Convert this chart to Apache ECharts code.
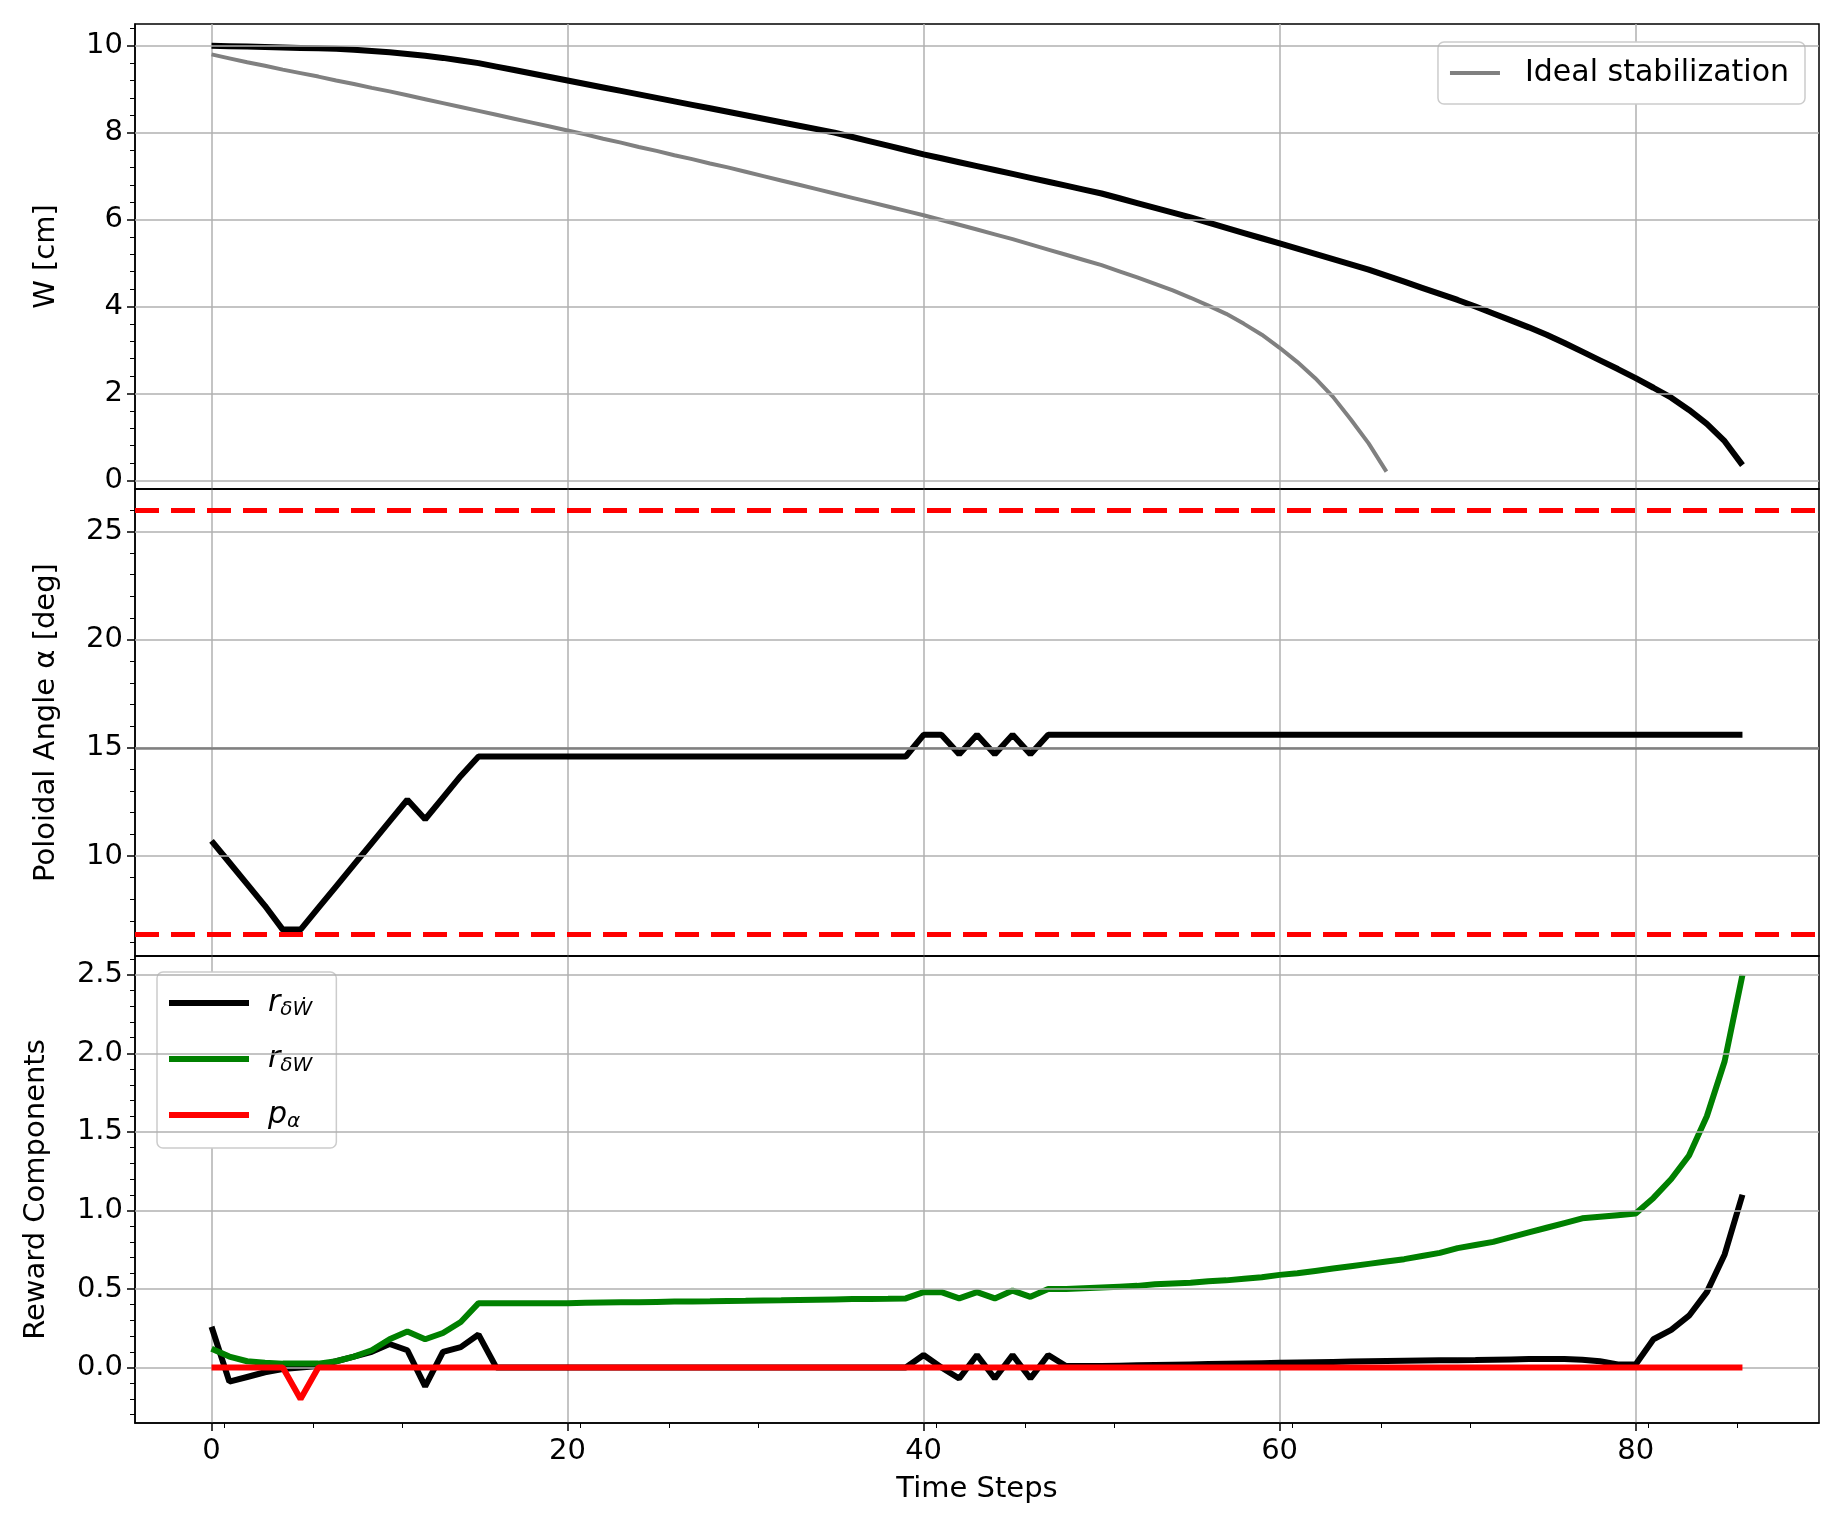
<!DOCTYPE html>
<html lang="en">
<head>
    <meta charset="UTF-8">
    <title>W / alpha / reward</title>
    <script src="https://cdn.jsdelivr.net/npm/echarts@6/dist/echarts.min.js"></script>
    <style>
        html, body { margin: 0; padding: 0; background: #fff; }
        #chart { width: 1837px; height: 1532px; }
    </style>
</head>
<body>
<div id="chart"></div>
<script>
    // island width W [cm], agent vs ideal
    var wAgent = [10.0, 9.99, 9.98, 9.97, 9.96, 9.95, 9.94, 9.93, 9.91, 9.88,
        9.85, 9.81, 9.77, 9.72, 9.66, 9.6, 9.52, 9.44, 9.36, 9.28,
        9.2, 9.12, 9.04, 8.96, 8.88, 8.8, 8.72, 8.64, 8.56, 8.48,
        8.4, 8.32, 8.24, 8.16, 8.08, 8.0, 7.9, 7.8, 7.7, 7.6,
        7.5, 7.41, 7.32, 7.23, 7.14, 7.05, 6.96, 6.87, 6.78, 6.69,
        6.6, 6.49, 6.38, 6.27, 6.16, 6.05, 5.93, 5.81, 5.69, 5.57,
        5.45, 5.33, 5.21, 5.09, 4.97, 4.85, 4.71, 4.57, 4.43, 4.29,
        4.15, 4.0, 3.84, 3.68, 3.52, 3.35, 3.16, 2.96, 2.76, 2.56,
        2.35, 2.13, 1.9, 1.62, 1.3, 0.9, 0.35];
    var wIdeal = [9.8, 9.71, 9.62, 9.54, 9.45, 9.37, 9.29, 9.2, 9.12, 9.03,
        8.95, 8.86, 8.77, 8.68, 8.59, 8.5, 8.41, 8.32, 8.23, 8.14,
        8.05, 7.96, 7.86, 7.77, 7.67, 7.58, 7.48, 7.39, 7.29, 7.2,
        7.1, 7.0, 6.9, 6.8, 6.7, 6.6, 6.5, 6.4, 6.3, 6.2,
        6.1, 5.99, 5.88, 5.77, 5.66, 5.55, 5.43, 5.31, 5.19, 5.07,
        4.95, 4.81, 4.67, 4.52, 4.37, 4.2, 4.02, 3.83, 3.6, 3.35,
        3.05, 2.72, 2.35, 1.92, 1.4, 0.85, 0.2];
    // poloidal angle alpha [deg]
    var alpha = [10.7, 9.7, 8.7, 7.7, 6.6, 6.6, 7.6, 8.6, 9.6, 10.6,
        11.6, 12.6, 11.7, 12.7, 13.7, 14.6, 14.6, 14.6, 14.6, 14.6,
        14.6, 14.6, 14.6, 14.6, 14.6, 14.6, 14.6, 14.6, 14.6, 14.6,
        14.6, 14.6, 14.6, 14.6, 14.6, 14.6, 14.6, 14.6, 14.6, 14.6,
        15.6, 15.6, 14.7, 15.6, 14.7, 15.6, 14.7, 15.6, 15.6, 15.6,
        15.6, 15.6, 15.6, 15.6, 15.6, 15.6, 15.6, 15.6, 15.6, 15.6,
        15.6, 15.6, 15.6, 15.6, 15.6, 15.6, 15.6, 15.6, 15.6, 15.6,
        15.6, 15.6, 15.6, 15.6, 15.6, 15.6, 15.6, 15.6, 15.6, 15.6,
        15.6, 15.6, 15.6, 15.6, 15.6, 15.6, 15.6];
    var alphaLimits = [26, 6.4];
    var alphaRef = 15;
    // reward components
    var rDotW = [0.26, -0.09, -0.06, -0.03, -0.01, 0.0, 0.01, 0.04, 0.07, 0.1,
        0.15, 0.11, -0.12, 0.1, 0.13, 0.21, 0.0, 0, 0, 0,
        0, 0, 0, 0, 0, 0, 0, 0, 0, 0,
        0, 0, 0, 0, 0, 0, 0, 0, 0, 0,
        0.08, 0.0, -0.07, 0.08, -0.07, 0.08, -0.07, 0.08, 0.01, 0.01,
        0.01, 0.012, 0.014, 0.016, 0.018, 0.02, 0.022, 0.024, 0.026, 0.028,
        0.03, 0.032, 0.034, 0.036, 0.038, 0.04, 0.042, 0.044, 0.045, 0.046,
        0.047, 0.048, 0.05, 0.052, 0.054, 0.055, 0.054, 0.05, 0.04, 0.02,
        0.02, 0.18, 0.24, 0.33, 0.48, 0.72, 1.1];
    var rW = [0.12, 0.07, 0.04, 0.03, 0.025, 0.025, 0.025, 0.04, 0.07, 0.11,
        0.18, 0.23, 0.18, 0.22, 0.29, 0.41, 0.41, 0.41, 0.41, 0.41,
        0.41, 0.412, 0.414, 0.415, 0.416, 0.418, 0.42, 0.421, 0.422, 0.424,
        0.425, 0.427, 0.428, 0.43, 0.432, 0.434, 0.436, 0.437, 0.438, 0.44,
        0.48, 0.48, 0.44, 0.48, 0.44, 0.49, 0.45, 0.5, 0.5, 0.505,
        0.51, 0.515, 0.52, 0.53, 0.535, 0.54, 0.55, 0.555, 0.565, 0.575,
        0.59, 0.6, 0.615, 0.63, 0.645, 0.66, 0.675, 0.69, 0.71, 0.73,
        0.76, 0.78, 0.8, 0.83, 0.86, 0.89, 0.92, 0.95, 0.96, 0.97,
        0.98, 1.08, 1.2, 1.35, 1.6, 1.95, 2.5];
    var pAlpha = [0, 0, 0, 0, 0, -0.2, 0, 0, 0, 0,
        0, 0, 0, 0, 0, 0, 0, 0, 0, 0,
        0, 0, 0, 0, 0, 0, 0, 0, 0, 0,
        0, 0, 0, 0, 0, 0, 0, 0, 0, 0,
        0, 0, 0, 0, 0, 0, 0, 0, 0, 0,
        0, 0, 0, 0, 0, 0, 0, 0, 0, 0,
        0, 0, 0, 0, 0, 0, 0, 0, 0, 0,
        0, 0, 0, 0, 0, 0, 0, 0, 0, 0,
        0, 0, 0, 0, 0, 0, 0];

    function pairs(arr) {
        return arr.map(function (v, i) { return [i, v]; });
    }

    var font = 'DejaVu Sans';
    var fs = 29;

    function xAxis(idx, last) {
        return {
            type: 'value', gridIndex: idx, min: -4.3, max: 90.3, interval: 20,
            axisLine: {onZero: false, lineStyle: {color: '#000', width: 1.5}},
            axisTick: {show: last, length: 8, inside: false, lineStyle: {color: '#000', width: 1.5},
                customValues: [0, 20, 40, 60, 80]},
            minorTick: {show: last, splitNumber: 4, length: 5, lineStyle: {color: '#000'}},
            axisLabel: {show: last, fontSize: fs, fontFamily: font, color: '#000', margin: 14,
                customValues: [0, 20, 40, 60, 80]},
            splitLine: {show: true, lineStyle: {color: '#b0b0b0', width: 1.5}},
            name: last ? 'Time Steps' : '', nameLocation: 'middle', nameGap: 52,
            nameTextStyle: {fontSize: fs, fontFamily: font, color: '#000'}
        };
    }

    function yAxis(idx, min, max, interval, name, labels) {
        return {
            type: 'value', gridIndex: idx, min: min, max: max,
            axisLine: {show: true, onZero: false, lineStyle: {color: '#000', width: 1.5}},
            axisTick: {show: true, length: 8, lineStyle: {color: '#000', width: 1.5}, customValues: labels},
            minorTick: {show: true, splitNumber: 5, length: 5, lineStyle: {color: '#000'}},
            axisLabel: {fontSize: fs, fontFamily: font, color: '#000', margin: 12, customValues: labels,
                formatter: function (v) { return interval < 1 ? v.toFixed(1) : String(v); }},
            splitLine: {show: false},
            name: name, nameLocation: 'middle', nameGap: interval < 1 ? 84 : 74,
            nameTextStyle: {fontSize: fs, fontFamily: font, color: '#000'}
        };
    }

    function lineSeries(name, data, xi, color, width, z) {
        return {
            name: name, type: 'line', xAxisIndex: xi, yAxisIndex: xi, data: pairs(data),
            showSymbol: false, symbol: 'none', lineStyle: {color: color, width: width}, itemStyle: {color: color},
            z: z || 3, animation: false
        };
    }

    var chart = echarts.init(document.getElementById('chart'));
    var alphaSeries = lineSeries('alpha', alpha, 1, '#000', 6, 4);
    alphaSeries.markLine = {
        silent: true, symbol: 'none', label: {show: false}, animation: false,
        data: [
            {yAxis: alphaLimits[0], lineStyle: {color: '#ff0000', type: [24, 12], width: 5}},
            {yAxis: alphaLimits[1], lineStyle: {color: '#ff0000', type: [24, 12], width: 5}},
            {yAxis: alphaRef, lineStyle: {color: '#808080', type: 'solid', width: 2.5}}
        ]
    };

    // manual grid lines for y (major ticks only)
    function hLines(idx, vals) {
        return {
            type: 'line', xAxisIndex: idx, yAxisIndex: idx, data: [], silent: true,
            markLine: {silent: true, symbol: 'none', label: {show: false}, animation: false,
                lineStyle: {color: '#b0b0b0', type: 'solid', width: 1.5},
                data: vals.map(function (v) { return {yAxis: v}; })}
        };
    }

    var subRich = {
        r: {fontSize: 30, fontStyle: 'italic', fontFamily: font, color: '#000', padding: [0, 0, 0, 14]},
        s: {fontSize: 20, fontStyle: 'italic', fontFamily: font, color: '#000', verticalAlign: 'bottom', padding: [14, 0, 0, 0]}
    };

    var gridBox = {show: true, borderColor: '#000', borderWidth: 1.5, backgroundColor: 'transparent'};
    chart.setOption({
        animation: false,
        grid: [
            Object.assign({left: 135, width: 1684, top: 24, height: 465}, gridBox),
            Object.assign({left: 135, width: 1684, top: 489, height: 467}, gridBox),
            Object.assign({left: 135, width: 1684, top: 956, height: 467}, gridBox)
        ],
        xAxis: [xAxis(0, false), xAxis(1, false), xAxis(2, true)],
        yAxis: [
            yAxis(0, -0.2, 10.5, 2, 'W [cm]', [0, 2, 4, 6, 8, 10]),
            yAxis(1, 5.38, 26.96, 5, 'Poloidal Angle α [deg]', [10, 15, 20, 25]),
            yAxis(2, -0.353, 2.62, 0.5, 'Reward Components', [0, 0.5, 1, 1.5, 2, 2.5])
        ],
        legend: [
            {
                data: ['Ideal stabilization'], right: 32, top: 42, orient: 'vertical',
                itemWidth: 50, itemHeight: 4, itemGap: 10, padding: [16, 16, 16, 12],
                borderColor: '#ccc', borderWidth: 1.5, borderRadius: 6, backgroundColor: '#fff',
                textStyle: {fontSize: 30, fontFamily: font, color: '#000', padding: [0, 0, 0, 20]}, icon: 'rect'
            },
            {
                data: ['rdw', 'rw', 'pa'], left: 157, top: 972, orient: 'vertical',
                itemWidth: 80, itemHeight: 6, itemGap: 24, padding: [16, 24, 16, 12],
                borderColor: '#ccc', borderWidth: 1.5, borderRadius: 6, backgroundColor: '#fff', icon: 'rect',
                formatter: function (n) {
                    if (n === 'rdw') return '{r|r}{s|δW\u0307}';
                    if (n === 'rw') return '{r|r}{s|δW}';
                    return '{r|p}{s|α}';
                },
                textStyle: {rich: subRich, fontSize: 30}
            }
        ],
        series: [
            hLines(0, [0, 2, 4, 6, 8, 10]),
            hLines(1, [10, 15, 20, 25]),
            hLines(2, [0, 0.5, 1, 1.5, 2, 2.5]),
            lineSeries('W', wAgent, 0, '#000', 6, 4),
            lineSeries('Ideal stabilization', wIdeal, 0, '#808080', 4, 3),
            alphaSeries,
            lineSeries('rdw', rDotW, 2, '#000', 6, 4),
            lineSeries('rw', rW, 2, '#008000', 6, 4),
            lineSeries('pa', pAlpha, 2, '#ff0000', 6, 5)
        ]
    });
</script>
</body>
</html>
